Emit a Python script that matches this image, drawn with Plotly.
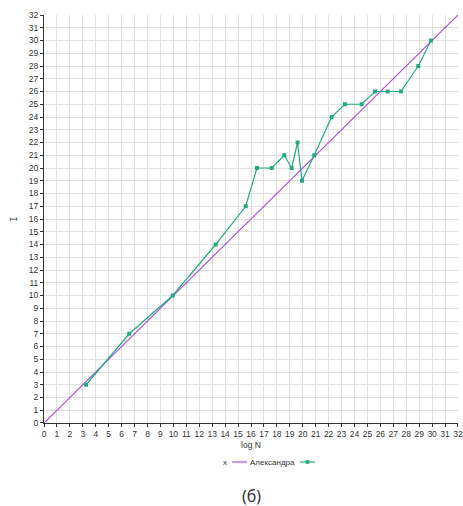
import plotly.graph_objects as go

# Measured points (log N, I)
log_n = [3.25, 6.59, 9.95, 13.27, 15.59, 16.46, 17.6, 18.57, 19.14, 19.6, 19.94,
         20.89, 22.23, 23.26, 24.55, 25.58, 26.56, 27.59, 28.93, 29.91]
i_vals = [3, 7, 10, 14, 17, 20, 20, 21, 20, 22, 19,
          21, 24, 25, 25, 26, 26, 26, 28, 30]

# Reference line I = log N
ref_x = [0, 32]
ref_y = [0, 32]

tick_vals = list(range(0, 33))
tick_text = [str(v) for v in tick_vals]

PURPLE = "#b04be3"
GREEN = "#22aa84"
FONT = "Liberation Sans"

fig = go.Figure()
fig.add_trace(go.Scatter(x=ref_x, y=ref_y, mode="lines", name="x",
                         line=dict(color=PURPLE, width=1.2), showlegend=False))
fig.add_trace(go.Scatter(x=log_n, y=i_vals, mode="lines+markers", name="Александра",
                         line=dict(color=GREEN, width=1.2),
                         marker=dict(color=GREEN, size=4, symbol="square"),
                         showlegend=False))

axis_common = dict(range=[-0.0005, 32.0005], tickmode="array", tickvals=tick_vals,
                   ticktext=tick_text, ticklabeloverflow="allow", automargin=False,
                   showgrid=True, gridcolor="#e0e0e0", gridwidth=1,
                   showline=True, linecolor="#333", linewidth=1,
                   ticks="outside", ticklen=3, tickcolor="#333",
                   tickfont=dict(family=FONT, size=8.5, color="#333"),
                   zeroline=False, fixedrange=True)

fig.update_xaxes(**axis_common,
                 title=dict(text="log N", font=dict(family=FONT, size=8.5, color="#333"), standoff=3))
fig.update_yaxes(**axis_common,
                 title=dict(text="I", font=dict(family="DejaVu Sans Mono", size=8, color="#333"),
                            standoff=10))

# Legend row: label text followed by its line sample
legend_y = -0.0956
annotations = [
    dict(text="x", x=0.4475, y=legend_y, xref="paper", yref="paper", showarrow=False,
         xanchor="right", yanchor="middle", font=dict(family=FONT, size=8, color="#333")),
    dict(text="Александра", x=0.6116, y=legend_y, xref="paper", yref="paper", showarrow=False,
         xanchor="right", yanchor="middle", font=dict(family=FONT, size=8, color="#333")),
    dict(text="(б)", x=0.5, y=-0.179, xref="paper", yref="paper", showarrow=False,
         xanchor="center", yanchor="middle", font=dict(family="Noto Sans", size=16, color="#333")),
]
shapes = [
    dict(type="line", xref="paper", yref="paper", x0=0.4545, x1=0.4907, y0=legend_y, y1=legend_y,
         line=dict(color=PURPLE, width=1.2)),
    dict(type="line", xref="paper", yref="paper", x0=0.6188, x1=0.655, y0=legend_y, y1=legend_y,
         line=dict(color=GREEN, width=1.2)),
    dict(type="rect", xref="paper", yref="paper", x0=0.632, x1=0.641,
         y0=legend_y - 0.0045, y1=legend_y + 0.0045,
         line=dict(width=0), fillcolor=GREEN),
]

fig.update_layout(width=463, height=506, margin=dict(l=43.5, r=5, t=15, b=83),
                  plot_bgcolor="white", paper_bgcolor="white",
                  annotations=annotations, shapes=shapes)

fig.write_html("out.html")
